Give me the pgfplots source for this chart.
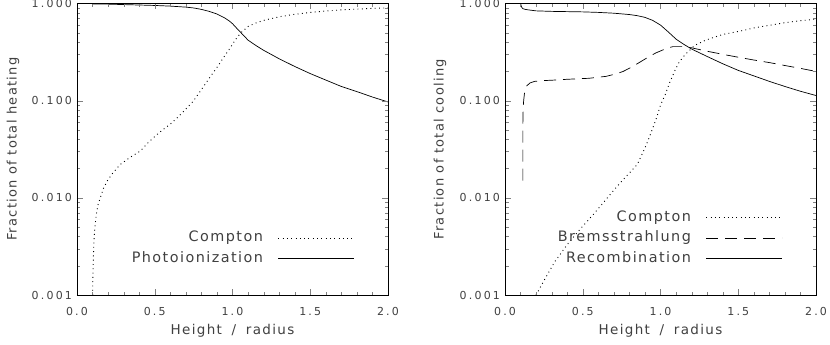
\documentclass[border=0pt]{standalone}
\usepackage{fontspec}
\setmainfont{DejaVu Sans}
\newfontfamily\tickfont{DejaVu Sans}[LetterSpace=20]
\newfontfamily\labfont{DejaVu Sans}[LetterSpace=10]
\usepackage{pgfplots}
\pgfplotsset{compat=1.18}

\tikzset{
  cdot/.style={black, line width=0.9pt, dash pattern=on 0.9pt off 3.4pt},
  cdash/.style={black, line width=0.7pt, dash pattern=on 12pt off 7pt},
  csol/.style={black, line width=0.7pt},
}
\pgfplotsset{
  every axis label/.append style={font=\labfont\fontsize{13}{15}\selectfont, text=black!75},
  every axis x label/.style={at={(axis description cs:0.5,0)}, yshift=-36pt, anchor=center,
      font=\labfont\fontsize{13.5}{15}\selectfont},
  every axis legend/.append style={draw=none, fill=none, font=\labfont\fontsize{14.4}{16}\selectfont,
      text=black!75, row sep=7pt, column sep=15pt, inner sep=0pt,
      nodes={inner sep=0pt, text height=10.5pt, text depth=3pt}, anchor=east},
  legend image code/.code={\draw[#1] (0pt,0pt) -- (76pt,0pt);},
}

\begin{document}
\begin{tikzpicture}
\useasboundingbox (-77pt,-50pt) rectangle (753pt,295pt);

% heating
\begin{axis}[at={(0pt,0pt)}, anchor=south west,
  scale only axis, width=311pt, height=291.5pt, ymode=log,
  xmin=0, xmax=2, ymin=0.001, ymax=1,
  xtick={0,0.5,1,1.5,2}, xticklabels={0.0,0.5,1.0,1.5,2.0}, minor x tick num=4,
  ytick={0.001,0.01,0.1,1}, yticklabels={0.001,0.010,0.100,1.000},
  tick align=inside, major tick length=6pt, minor tick length=3.5pt,
  axis on top,
  tick label style={font=\tickfont\fontsize{11}{13}\selectfont, text=black!75},
  xticklabel style={yshift=-8.5pt}, yticklabel style={xshift=-1.5pt},
  xlabel={Height\hspace{4pt} /\hspace{4pt} radius},
  ylabel={Fraction of total heating},
  every axis y label/.style={at={(axis description cs:0,0.5)}, xshift=-64pt, rotate=90, anchor=center},
  legend cell align=right, legend plot pos=right,
  legend style={at={(0.894,0.16)}}]
\addplot[cdot] coordinates {
(0.100,0.001) (0.102,0.0015) (0.104,0.002) (0.107,0.003) (0.110,0.0037)
(0.115,0.005) (0.124,0.0067) (0.135,0.0085) (0.150,0.010) (0.170,0.0125)
(0.193,0.0148) (0.230,0.018) (0.279,0.0221) (0.340,0.026) (0.407,0.0303)
(0.450,0.036) (0.504,0.0434) (0.550,0.050) (0.600,0.0573) (0.650,0.068)
(0.700,0.082) (0.750,0.100) (0.800,0.130) (0.850,0.170) (0.900,0.220)
(0.950,0.290) (0.980,0.340) (1.000,0.380) (1.030,0.450) (1.060,0.510)
(1.100,0.580) (1.150,0.630) (1.200,0.670) (1.300,0.730) (1.400,0.775)
(1.500,0.810) (1.600,0.837) (1.700,0.860) (1.800,0.876) (1.900,0.891)
(2.000,0.903)};
\addlegendentry{Compton}
\addplot[csol] coordinates {
(0.100,0.990) (0.200,0.985) (0.300,0.975) (0.400,0.965) (0.500,0.955)
(0.600,0.940) (0.700,0.918) (0.750,0.900) (0.800,0.870) (0.850,0.830)
(0.900,0.780) (0.950,0.710) (0.980,0.660) (1.000,0.620) (1.030,0.550)
(1.060,0.490) (1.100,0.420) (1.150,0.370) (1.200,0.330) (1.300,0.270)
(1.400,0.225) (1.500,0.190) (1.600,0.163) (1.700,0.140) (1.800,0.124)
(1.900,0.109) (2.000,0.097)};
\addlegendentry{Photoionization}
\end{axis}

% cooling
\begin{axis}[at={(428pt,0pt)}, anchor=south west,
  scale only axis, width=311pt, height=291.5pt, ymode=log,
  xmin=0, xmax=2, ymin=0.001, ymax=1,
  xtick={0,0.5,1,1.5,2}, xticklabels={0.0,0.5,1.0,1.5,2.0}, minor x tick num=4,
  ytick={0.001,0.01,0.1,1}, yticklabels={0.001,0.010,0.100,1.000},
  tick align=inside, major tick length=6pt, minor tick length=3.5pt,
  axis on top,
  tick label style={font=\tickfont\fontsize{11}{13}\selectfont, text=black!75},
  xticklabel style={yshift=-8.5pt}, yticklabel style={xshift=-1.5pt},
  xlabel={Height\hspace{4pt} /\hspace{4pt} radius},
  ylabel={Fraction of total cooling},
  every axis y label/.style={at={(axis description cs:0,0.5)}, xshift=-65pt, rotate=90, anchor=center},
  legend cell align=right, legend plot pos=right,
  legend style={at={(0.894,0.1955)}}]
\addplot[cdot] coordinates {
(0.200,0.001) (0.250,0.0014) (0.320,0.0022) (0.400,0.0033) (0.490,0.0049)
(0.570,0.0068) (0.640,0.0092) (0.700,0.012) (0.750,0.0148) (0.800,0.018)
(0.850,0.022) (0.890,0.030) (0.920,0.039) (0.950,0.052) (0.975,0.067)
(1.000,0.090) (1.030,0.115) (1.060,0.155) (1.090,0.200) (1.120,0.250)
(1.160,0.300) (1.220,0.370) (1.290,0.420) (1.400,0.480) (1.500,0.515)
(1.600,0.560) (1.710,0.600) (1.800,0.635) (1.900,0.665) (2.000,0.690)};
\addlegendentry{Compton}
\addplot[cdash] coordinates {
(0.115,0.015) (0.115,0.060) (0.117,0.085) (0.120,0.100) (0.125,0.118)
(0.130,0.130) (0.140,0.142) (0.160,0.152) (0.190,0.158) (0.250,0.161)
(0.320,0.163) (0.400,0.166) (0.540,0.170) (0.650,0.178) (0.710,0.188)
(0.760,0.200) (0.810,0.220) (0.860,0.245) (0.920,0.280) (0.970,0.310)
(1.010,0.330) (1.050,0.350) (1.080,0.360) (1.150,0.360) (1.200,0.350)
(1.290,0.325) (1.400,0.300) (1.500,0.280) (1.600,0.262) (1.710,0.245)
(1.800,0.230) (1.900,0.215) (2.000,0.200)};
\addlegendentry{Bremsstrahlung}
\addplot[csol] coordinates {
(0.100,1.000) (0.103,0.960) (0.108,0.910) (0.115,0.885) (0.130,0.870)
(0.150,0.860) (0.200,0.840) (0.300,0.830) (0.400,0.825) (0.500,0.820)
(0.600,0.810) (0.700,0.795) (0.800,0.770) (0.850,0.750) (0.900,0.720)
(0.950,0.670) (1.000,0.600) (1.050,0.510) (1.100,0.430) (1.150,0.380)
(1.200,0.340) (1.300,0.285) (1.400,0.240) (1.500,0.205) (1.600,0.180)
(1.700,0.158) (1.800,0.140) (1.900,0.125) (2.000,0.113)};
\addlegendentry{Recombination}
\end{axis}
\end{tikzpicture}
\end{document}
